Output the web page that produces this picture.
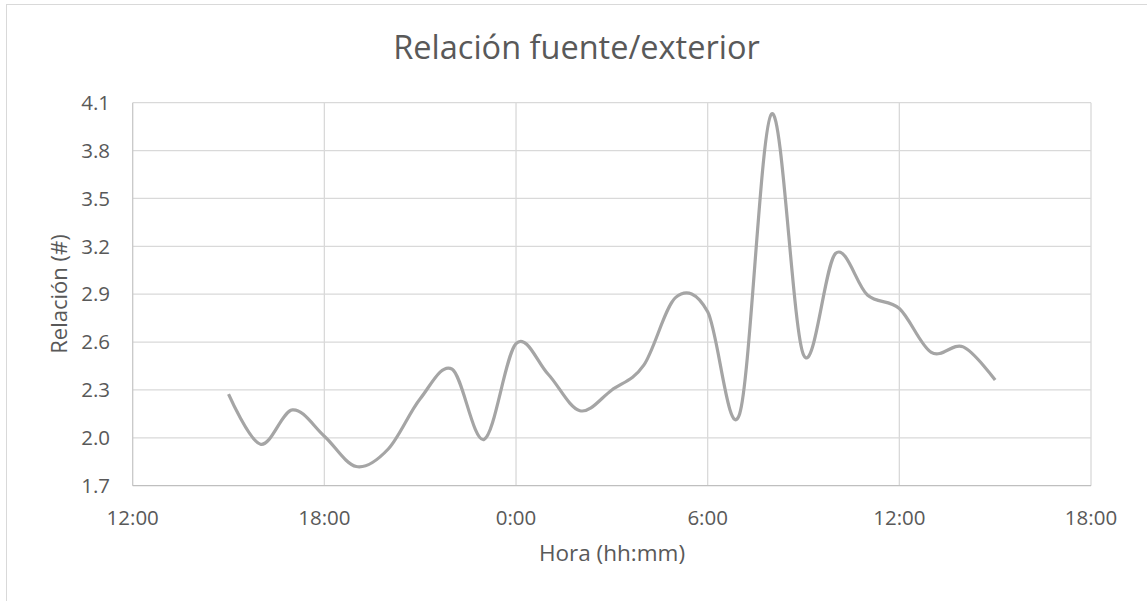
<!DOCTYPE html>
<html lang="es">
  <head>
    <meta charset="UTF-8" />
    <title>Relación fuente/exterior</title>
    <script src="https://d3js.org/d3.v7.min.js"></script>
    <style>
      body {
        margin: 0;
        background-color: #fff;
        font-family: "Open Sans", sans-serif;
      }
      text {
        fill: #595959;
      }
    </style>
  </head>
  <body>
    <div id="chart"></div>
    <script>
      const horas = [
        "2000-01-01T15:00", "2000-01-01T16:00", "2000-01-01T17:00",
        "2000-01-01T18:00", "2000-01-01T19:00", "2000-01-01T20:00",
        "2000-01-01T21:00", "2000-01-01T22:00", "2000-01-01T23:00",
        "2000-01-02T00:00", "2000-01-02T01:00", "2000-01-02T02:00",
        "2000-01-02T03:00", "2000-01-02T04:00", "2000-01-02T05:00",
        "2000-01-02T06:00", "2000-01-02T07:00", "2000-01-02T08:00",
        "2000-01-02T09:00", "2000-01-02T10:00", "2000-01-02T11:00",
        "2000-01-02T12:00", "2000-01-02T13:00", "2000-01-02T14:00",
        "2000-01-02T15:00",
      ];
      const relacion = [
        2.274, 1.96, 2.175, 2.01, 1.82, 1.93, 2.245, 2.43, 1.99,
        2.59, 2.4, 2.17, 2.3, 2.455, 2.88, 2.79, 2.15, 4.03,
        2.52, 3.155, 2.895, 2.81, 2.535, 2.57, 2.362,
      ];
      const dominioX = ["2000-01-01T12:00", "2000-01-02T18:00"];
      const ticksY = [1.7, 2.0, 2.3, 2.6, 2.9, 3.2, 3.5, 3.8, 4.1];

      const width = 1147;
      const height = 601;
      const margin = { left: 132.7, right: 1091, top: 102.7, bottom: 485.7 };

      const parse = d3.timeParse("%Y-%m-%dT%H:%M");
      const datos = horas.map((h, i) => ({ t: parse(h), v: relacion[i] }));

      const svg = d3
        .select("#chart")
        .append("svg")
        .attr("width", width)
        .attr("height", height);

      // borde del área del gráfico
      svg
        .append("rect")
        .attr("x", 6.5)
        .attr("y", 4.5)
        .attr("width", width + 10)
        .attr("height", height + 10)
        .attr("fill", "#fff")
        .attr("stroke", "#d9d9d9");

      const x = d3
        .scaleTime()
        .domain(dominioX.map(parse))
        .range([margin.left, margin.right]);
      const y = d3
        .scaleLinear()
        .domain([1.7, 4.1])
        .range([margin.bottom, margin.top]);

      const ticksX = d3.timeHour.every(6).range(x.domain()[0], d3.timeMinute.offset(x.domain()[1], 1));
      const fmt = d3.timeFormat("%-H:%M");

      // cuadrícula horizontal
      svg
        .append("g")
        .selectAll("line")
        .data(ticksY.slice(1))
        .enter()
        .append("line")
        .attr("x1", margin.left)
        .attr("x2", margin.right)
        .attr("y1", (d) => y(d))
        .attr("y2", (d) => y(d))
        .attr("stroke", "#d9d9d9")
        .attr("stroke-width", 1.3);

      // cuadrícula vertical
      svg
        .append("g")
        .selectAll("line")
        .data(ticksX)
        .enter()
        .append("line")
        .attr("x1", (d) => x(d))
        .attr("x2", (d) => x(d))
        .attr("y1", margin.top)
        .attr("y2", margin.bottom)
        .attr("stroke", (d, i) => (i === 0 ? "#c8c8c8" : "#d9d9d9"))
        .attr("stroke-width", 1.3);

      // eje horizontal
      svg
        .append("line")
        .attr("x1", margin.left)
        .attr("x2", margin.right)
        .attr("y1", y(1.7))
        .attr("y2", y(1.7))
        .attr("stroke", "#bfbfbf")
        .attr("stroke-width", 1.3);

      // etiquetas eje Y
      svg
        .append("g")
        .selectAll("text")
        .data(ticksY)
        .enter()
        .append("text")
        .attr("x", 110)
        .attr("y", (d) => y(d))
        .attr("dy", "0.35em")
        .attr("text-anchor", "end")
        .style("font-size", "20.5px")
        .text((d) => d.toFixed(1));

      // etiquetas eje X
      svg
        .append("g")
        .selectAll("text")
        .data(ticksX)
        .enter()
        .append("text")
        .attr("x", (d) => x(d))
        .attr("y", 518)
        .attr("dy", "0.35em")
        .attr("text-anchor", "middle")
        .style("font-size", "20.5px")
        .text((d) => fmt(d));

      // línea suavizada
      const linea = d3
        .line()
        .x((d) => x(d.t))
        .y((d) => y(d.v))
        .curve(d3.curveCardinal.tension(0));

      svg
        .append("path")
        .datum(datos)
        .attr("d", linea)
        .attr("fill", "none")
        .attr("stroke", "#a5a5a5")
        .attr("stroke-width", 3.2)
        .attr("stroke-linejoin", "round");

      // títulos
      svg
        .append("text")
        .attr("x", 576.5)
        .attr("y", 48)
        .attr("dy", "0.35em")
        .attr("text-anchor", "middle")
        .style("font-size", "32.5px")
        .text("Relación fuente/exterior");

      svg
        .append("text")
        .attr("x", 612)
        .attr("y", 553)
        .attr("dy", "0.35em")
        .attr("text-anchor", "middle")
        .style("font-size", "22.5px")
        .text("Hora (hh:mm)");

      svg
        .append("text")
        .attr("transform", "translate(59,294) rotate(-90)")
        .attr("dy", "0.35em")
        .attr("text-anchor", "middle")
        .style("font-size", "22px")
        .text("Relación (#)");
    </script>
  </body>
</html>
